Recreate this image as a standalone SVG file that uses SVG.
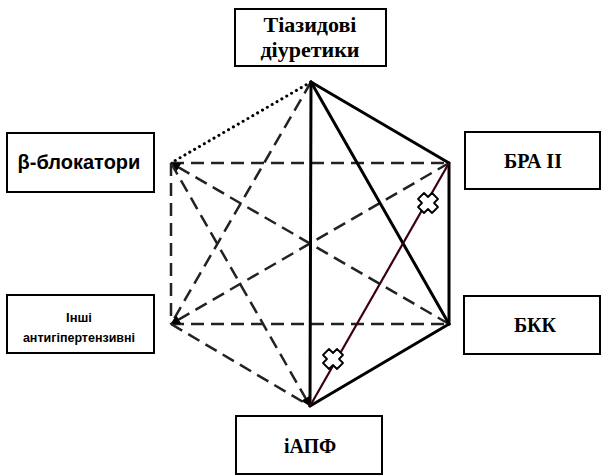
<svg xmlns="http://www.w3.org/2000/svg" width="605" height="475" viewBox="0 0 605 475">
  <defs>
    <style>
      .box { fill: #ffffff; stroke: #000000; stroke-width: 2; }
      .serif { font-family: "Liberation Serif", "DejaVu Serif", serif; font-weight: bold; fill: #000; text-anchor: middle; }
      .sans { font-family: "Liberation Sans", "DejaVu Sans", sans-serif; font-weight: bold; fill: #000; text-anchor: middle; }
      .solid { stroke: #000000; stroke-width: 3; fill: none; stroke-linecap: round; }
      .dash { stroke: #222222; stroke-width: 2.5; fill: none; stroke-dasharray: 13 7; }
      .dot { stroke: #000000; stroke-width: 3; fill: none; stroke-dasharray: 0.1 5.5; stroke-linecap: round; }
      .mixed { stroke: #3a0010; stroke-width: 2.2; fill: none; }
      .cross { fill: #ffffff; stroke: #000000; stroke-width: 1.8; stroke-linejoin: round; }
    </style>
    <marker id="tip" viewBox="0 0 10 10" refX="9" refY="5" markerWidth="4" markerHeight="4" orient="auto" markerUnits="strokeWidth">
      <path d="M0,0 L10,5 L0,10 Z" fill="#000"/>
    </marker>
  </defs>

  <!-- connectors between the drug classes -->
  <g id="connectors">
    <line class="dot" x1="311" y1="82" x2="171" y2="163"/>
    <line class="dash" x1="171" y1="163" x2="449" y2="163"/>
    <line class="dash" x1="171" y1="324" x2="449" y2="324"/>
    <line class="dash" x1="171" y1="163" x2="171" y2="324"/>
    <line class="dash" x1="449" y1="324" x2="171" y2="163" marker-end="url(#tip)"/>
    <line class="dash" x1="171" y1="163" x2="310" y2="406" marker-end="url(#tip)"/>
    <line class="dash" x1="311" y1="82" x2="171" y2="324"/>
    <line class="dash" x1="449" y1="163" x2="171" y2="324" marker-end="url(#tip)"/>
    <line class="dash" x1="171" y1="324" x2="310" y2="406"/>
    <line class="solid" x1="310" y1="406" x2="311" y2="82"/>
    <line class="solid" x1="311" y1="82" x2="449" y2="163"/>
    <line class="solid" x1="311" y1="82" x2="449" y2="324"/>
    <line class="solid" x1="449" y1="163" x2="449" y2="324"/>
    <line class="solid" x1="449" y1="324" x2="310" y2="406"/>
    <line class="mixed" x1="449" y1="163" x2="310" y2="406"/>
    <path class="cross" transform="translate(428,203)" d="M-4,-10 L0,-6 L4,-10 L10,-4 L6,0 L10,4 L4,10 L0,6 L-4,10 L-10,4 L-6,0 L-10,-4 Z"/>
    <path class="cross" transform="translate(333,359)" d="M-4,-10 L0,-6 L4,-10 L10,-4 L6,0 L10,4 L4,10 L0,6 L-4,10 L-10,4 L-6,0 L-10,-4 Z"/>
  </g>

  <g id="thiazide">
    <rect class="box" x="235" y="9" width="151" height="57"/>
    <text class="serif" x="310" y="32" font-size="22">Тіазидові</text>
    <text class="serif" x="310" y="57" font-size="22">діуретики</text>
  </g>

  <g id="beta-blockers">
    <rect class="box" x="7" y="133" width="147" height="59"/>
    <text class="sans" x="79" y="169" font-size="20">β-блокатори</text>
  </g>

  <g id="other">
    <rect class="box" x="7" y="295" width="147" height="58"/>
    <text class="sans" x="79" y="322" font-size="13">Інші</text>
    <text class="sans" x="79" y="342" font-size="12.5">антигіпертензивні</text>
  </g>

  <g id="arb">
    <rect class="box" x="465" y="132" width="135" height="57"/>
    <text class="serif" x="533" y="168" font-size="20">БРА ІІ</text>
  </g>

  <g id="ccb">
    <rect class="box" x="464" y="296" width="136" height="58"/>
    <text class="serif" x="535" y="332" font-size="20">БКК</text>
  </g>

  <g id="acei">
    <rect class="box" x="236" y="416" width="146" height="58"/>
    <text class="serif" x="310" y="453" font-size="20">іАПФ</text>
  </g>
</svg>
